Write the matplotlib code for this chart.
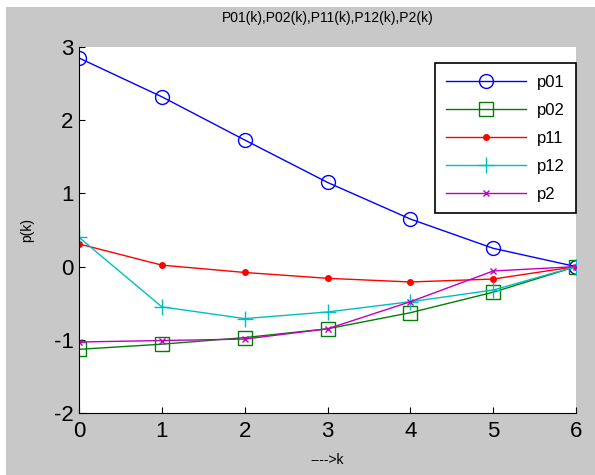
import matplotlib.pyplot as plt
import matplotlib.patches as mpatches

plt.rcParams['font.family'] = ['Liberation Sans', 'DejaVu Sans']
plt.rcParams['axes.unicode_minus'] = False

k = [0, 1, 2, 3, 4, 5, 6]
p01 = [2.85, 2.32, 1.73, 1.15, 0.65, 0.25, 0.0]
p02 = [-1.13, -1.06, -0.97, -0.85, -0.63, -0.35, 0.0]
p11 = [0.31, 0.02, -0.08, -0.16, -0.21, -0.17, 0.0]
p12 = [0.40, -0.55, -0.71, -0.62, -0.48, -0.32, 0.0]
p2 = [-1.03, -1.01, -0.99, -0.85, -0.48, -0.06, 0.0]

gray = '#c8c8c8'
fig = plt.figure(figsize=(5.95, 4.75), dpi=100, facecolor=gray)
# thin white margin at the left and top like the screenshot
fig.patches.append(mpatches.Rectangle((0, 0), 6/595, 1, transform=fig.transFigure,
                                      facecolor='white', edgecolor='none', zorder=-1))
fig.patches.append(mpatches.Rectangle((0, 1 - 7/475), 1, 7/475, transform=fig.transFigure,
                                      facecolor='white', edgecolor='none', zorder=-1))

ax = fig.add_axes([79/595, 62/475, 497/595, 366/475])
lw = 1.0
ax.plot(k, p01, color=(0, 0, 1), lw=lw, marker='o', ms=10, mfc='none', mew=1, label='p01')
ax.plot(k, p02, color=(0, 0.5, 0), lw=lw, marker='s', ms=10, mfc='none', mew=1, label='p02')
ax.plot(k, p11, color=(1, 0, 0), lw=lw, marker='.', ms=8, label='p11')
ax.plot(k, p12, color=(0, 0.75, 0.75), lw=lw, marker='+', ms=12, mew=1, label='p12')
ax.plot(k, p2, color=(0.75, 0, 0.75), lw=lw, marker='x', ms=5, mew=1, label='p2')

ax.set_xlim(0, 6)
ax.set_ylim(-2, 3)
ax.set_xticks(range(0, 7))
ax.set_yticks(range(-2, 4))
ax.spines['top'].set_visible(False)
ax.spines['right'].set_visible(False)
ax.tick_params(direction='in', length=4, labelsize=16)
ax.tick_params(axis='x', pad=6)
ax.tick_params(axis='y', pad=4)
ax.set_title('P01(k),P02(k),P11(k),P12(k),P2(k)', fontsize=10, pad=18)
ax.set_xlabel('---->k', fontsize=10, labelpad=8)
ax.set_ylabel('p(k)', fontsize=10, labelpad=14)

leg = ax.legend(loc='upper right', bbox_to_anchor=(576/595, 412/475),
                bbox_transform=fig.transFigure, fontsize=12, handlelength=4.8,
                numpoints=1, fancybox=False, framealpha=1, borderpad=0.7,
                labelspacing=0.78, handletextpad=0.6, borderaxespad=0)
leg.get_frame().set_edgecolor('black')
leg.get_frame().set_linewidth(1.2)

fig.savefig('out.png', dpi=100, facecolor=fig.get_facecolor())
